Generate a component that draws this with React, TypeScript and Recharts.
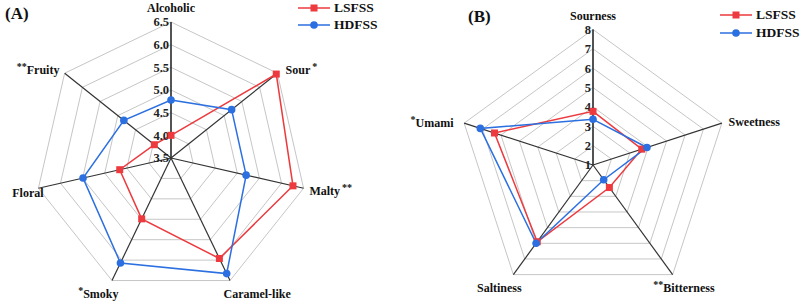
import { Legend, PolarAngleAxis, PolarGrid, PolarRadiusAxis, Radar, RadarChart } from "recharts";

const RED = "#ec3a3e";
const BLUE = "#2b6fe0";
const FONT = '"Liberation Serif", "Times New Roman", serif';

// (A) aroma attributes, scale starts at 3.5
const aromaLabels = ["Alcoholic", "Sour*", "Malty**", "Caramel-like", "*Smoky", "Floral", "**Fruity"];
const aromaLSFSS = [4.0, 6.47, 6.26, 5.96, 4.99, 4.66, 3.97];
const aromaHDFSS = [4.78, 5.21, 5.2, 6.33, 6.07, 5.49, 4.83];
const aromaRange = [3.5, 6.5];
const aromaTickCount = 7;

// (B) taste attributes, scale starts at 1
const tasteLabels = ["Sourness", "Sweetness", "**Bitterness", "Saltiness", "*Umami"];
const tasteLSFSS = [3.77, 3.65, 2.44, 5.9, 6.35];
const tasteHDFSS = [3.36, 3.93, 1.94, 6.0, 7.12];
const tasteRange = [1, 8];
const tasteTickCount = 8;

const seriesNames = ["LSFSS", "HDFSS"];

const aromaData = aromaLabels.map((attr, i) => ({ attr, LSFSS: aromaLSFSS[i], HDFSS: aromaHDFSS[i] }));
const tasteData = tasteLabels.map((attr, i) => ({ attr, LSFSS: tasteLSFSS[i], HDFSS: tasteHDFSS[i] }));

const SERIES_COLOR: Record<string, string> = { LSFSS: RED, HDFSS: BLUE };

// nudges for the category labels: dx, dy, anchor
const LABEL_SHIFT: Record<string, [number, number, "start" | "middle" | "end"]> = {
  Alcoholic: [0, -6, "middle"],
  "Sour*": [2, 2, "start"],
  "Malty**": [-2, 1, "start"],
  "Caramel-like": [-10, 6, "start"],
  "*Smoky": [10, 6, "end"],
  Floral: [13, 3, "end"],
  "**Fruity": [1, 2, "end"],
  Sourness: [0, -5.5, "middle"],
  Sweetness: [-1, 1.5, "start"],
  "**Bitterness": [-24, 7, "start"],
  Saltiness: [13, 7, "end"],
  "*Umami": [-3, 2.5, "end"],
};

function AngleTick(props: any) {
  const { x, y, payload, textAnchor } = props;
  const label: string = String(payload.value);
  const shift = LABEL_SHIFT[label] ?? [0, 0, textAnchor];
  const m = label.match(/^(\**)(.*?)(\**)$/) ?? ["", "", label, ""];
  const pre = m[1];
  const name = m[2];
  const post = m[3];
  return (
    <text
      x={x + shift[0]}
      y={y + shift[1]}
      textAnchor={shift[2]}
      dominantBaseline="central"
      fontFamily={FONT}
      fontWeight="bold"
      fontSize={12}
      fill="#111"
    >
      {pre && (
        <tspan dy={-4} fontSize={10}>
          {pre}
        </tspan>
      )}
      <tspan dy={pre ? 4 : 0}>{name}</tspan>
      {post && (
        <tspan dy={-4} dx={2} fontSize={10}>
          {post}
        </tspan>
      )}
    </text>
  );
}

// radius axis runs from 0 (= base of the scale), labels add the base back
function radiusTick(base: number, decimals: number) {
  return (props: any) => (
    <text
      x={props.x - 2}
      y={props.y}
      dy="0.35em"
      textAnchor="end"
      fontFamily={FONT}
      fontWeight="bold"
      fontSize={12.5}
      fill="#222"
    >
      {(Number(props.payload.value) + base).toFixed(decimals)}
    </text>
  );
}

const squareDot = (p: any) => (
  <rect key={`sq-${p.index}`} x={p.cx - 3.5} y={p.cy - 3.5} width={7} height={7} fill={RED} />
);
const circleDot = (p: any) => <circle key={`ci-${p.index}`} cx={p.cx} cy={p.cy} r={3.8} fill={BLUE} />;

function SeriesLegend({ rowHeight }: any) {
  return (
    <div>
      {seriesNames.map((name) => {
        const color = SERIES_COLOR[name];
        return (
          <div key={name} style={{ display: "flex", alignItems: "center", height: rowHeight, whiteSpace: "nowrap" }}>
            <svg width={32} height={10} style={{ marginRight: 4 }}>
              <line x1={0} y1={5} x2={32} y2={5} stroke={color} strokeWidth={1.5} />
              {name === "LSFSS" ? (
                <rect x={12.5} y={1.5} width={7} height={7} fill={color} />
              ) : (
                <circle cx={16} cy={5} r={3.8} fill={color} />
              )}
            </svg>
            <span style={{ fontFamily: FONT, fontWeight: "bold", fontSize: 13.5, color: "#111" }}>{name}</span>
          </div>
        );
      })}
    </div>
  );
}

function Panel({ data, range, tickCount, decimals, cx, cy, radius, legendLeft, legendTop, rowHeight }: any) {
  const base = range[0];
  const span = range[1] - range[0];
  return (
    <RadarChart
      width={400}
      height={301}
      data={data}
      cx={cx}
      cy={cy}
      outerRadius={radius}
      margin={{ top: 0, right: 0, bottom: 0, left: 0 }}
      style={{ overflow: "visible" }}
    >
      <PolarGrid gridType="polygon" radialLines={false} stroke="#c6c6c6" strokeWidth={1} />
      <PolarGrid gridType="polygon" polarRadius={[]} stroke="#333" strokeWidth={1.2} />
      <PolarAngleAxis dataKey="attr" tick={AngleTick} tickLine={false} axisLine={false} />
      <PolarRadiusAxis
        angle={90}
        type="number"
        domain={[0, span]}
        tickCount={tickCount}
        allowDecimals
        tick={radiusTick(base, decimals)}
        tickLine={false}
        axisLine={{ stroke: "#333", strokeWidth: 1.2 }}
      />
      {seriesNames.map((name) => (
        <Radar
          key={name}
          dataKey={(d: any) => d[name] - base}
          name={name}
          stroke={SERIES_COLOR[name]}
          strokeWidth={1.5}
          fill="none"
          fillOpacity={0}
          dot={name === "LSFSS" ? squareDot : circleDot}
          isAnimationActive={false}
        />
      ))}
      <Legend
        layout="vertical"
        align="right"
        verticalAlign="top"
        wrapperStyle={{ left: legendLeft, top: legendTop, width: 80 }}
        content={() => <SeriesLegend rowHeight={rowHeight} />}
      />
    </RadarChart>
  );
}

const titleStyle = {
  position: "absolute" as const,
  fontFamily: FONT,
  fontWeight: "bold" as const,
  fontSize: 17,
  color: "#111",
  lineHeight: "20px",
};

export default function App() {
  return (
    <div style={{ position: "absolute", left: 0, top: 0, width: 800, height: 301, background: "#fff", overflow: "hidden" }}>
      <div style={{ position: "absolute", left: 0, top: 0 }}>
        <Panel
          data={aromaData}
          range={aromaRange}
          tickCount={aromaTickCount}
          decimals={1}
          cx={171}
          cy={158}
          radius={136}
          legendLeft={298}
          legendTop={-0.5}
          rowHeight={17}
        />
      </div>
      <div style={{ position: "absolute", left: 400, top: 0 }}>
        <Panel
          data={tasteData}
          range={tasteRange}
          tickCount={tasteTickCount}
          decimals={0}
          cx={193}
          cy={165}
          radius={135.5}
          legendLeft={320}
          legendTop={5.5}
          rowHeight={18}
        />
      </div>
      <div style={{ ...titleStyle, left: 5, top: 4 }}>(A)</div>
      <div style={{ ...titleStyle, left: 468, top: 7 }}>(B)</div>
    </div>
  );
}
